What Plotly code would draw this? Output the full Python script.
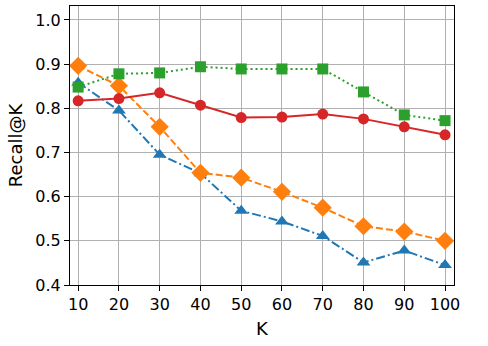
import plotly.graph_objects as go

k = [10, 20, 30, 40, 50, 60, 70, 80, 90, 100]
blue_vals = [0.858, 0.795, 0.695, 0.653, 0.568, 0.544, 0.511, 0.451, 0.478, 0.445]
orange_vals = [0.896, 0.851, 0.758, 0.654, 0.643, 0.611, 0.575, 0.533, 0.521, 0.500]
green_vals = [0.848, 0.878, 0.880, 0.894, 0.889, 0.889, 0.889, 0.837, 0.785, 0.772]
red_vals = [0.817, 0.822, 0.835, 0.807, 0.779, 0.780, 0.787, 0.776, 0.758, 0.740]

x_ticks = [10, 20, 30, 40, 50, 60, 70, 80, 90, 100]
y_ticks = [0.4, 0.5, 0.6, 0.7, 0.8, 0.9, 1.0]

series = [
    (blue_vals, "#1f77b4", "9px,3px,2px,3px", "triangle-up", 12),
    (orange_vals, "#ff7f0e", "7px,3px", "diamond", 14),
    (green_vals, "#2ca02c", "2px,3px", "square", 11),
    (red_vals, "#d62728", "solid", "circle", 11),
]

fig = go.Figure()
for vals, color, dash, symbol, size in series:
    fig.add_trace(go.Scatter(
        x=k, y=vals, mode="lines+markers",
        line=dict(color=color, width=2, dash=dash),
        marker=dict(symbol=symbol, size=size, color=color),
        showlegend=False))

axis_common = dict(
    showline=True, linecolor="black", linewidth=1, mirror=True,
    ticks="outside", ticklen=5, tickcolor="black",
    showgrid=True, gridcolor="#b0b0b0", gridwidth=1,
    zeroline=False, tickfont=dict(size=16, color="black"),
    automargin=False,
)

fig.update_layout(
    width=488, height=346,
    margin=dict(l=70, r=34, t=6, b=61),
    plot_bgcolor="white", paper_bgcolor="white",
    font=dict(family="DejaVu Sans", color="black"),
    xaxis=dict(range=[8, 102.2], tickvals=x_ticks,
               title=dict(text="K", font=dict(size=18), standoff=9),
               **axis_common),
    yaxis=dict(range=[0.4, 1.0315], tickvals=y_ticks, tickformat=".1f",
               title=dict(text="Recall@K", font=dict(size=18), standoff=8),
               **axis_common),
)

# page body has a default 8px margin; drop it so the figure sits at 0,0
fig.write_html("out.html", config={"displayModeBar": False},
               post_script="document.body.style.margin='0';")
